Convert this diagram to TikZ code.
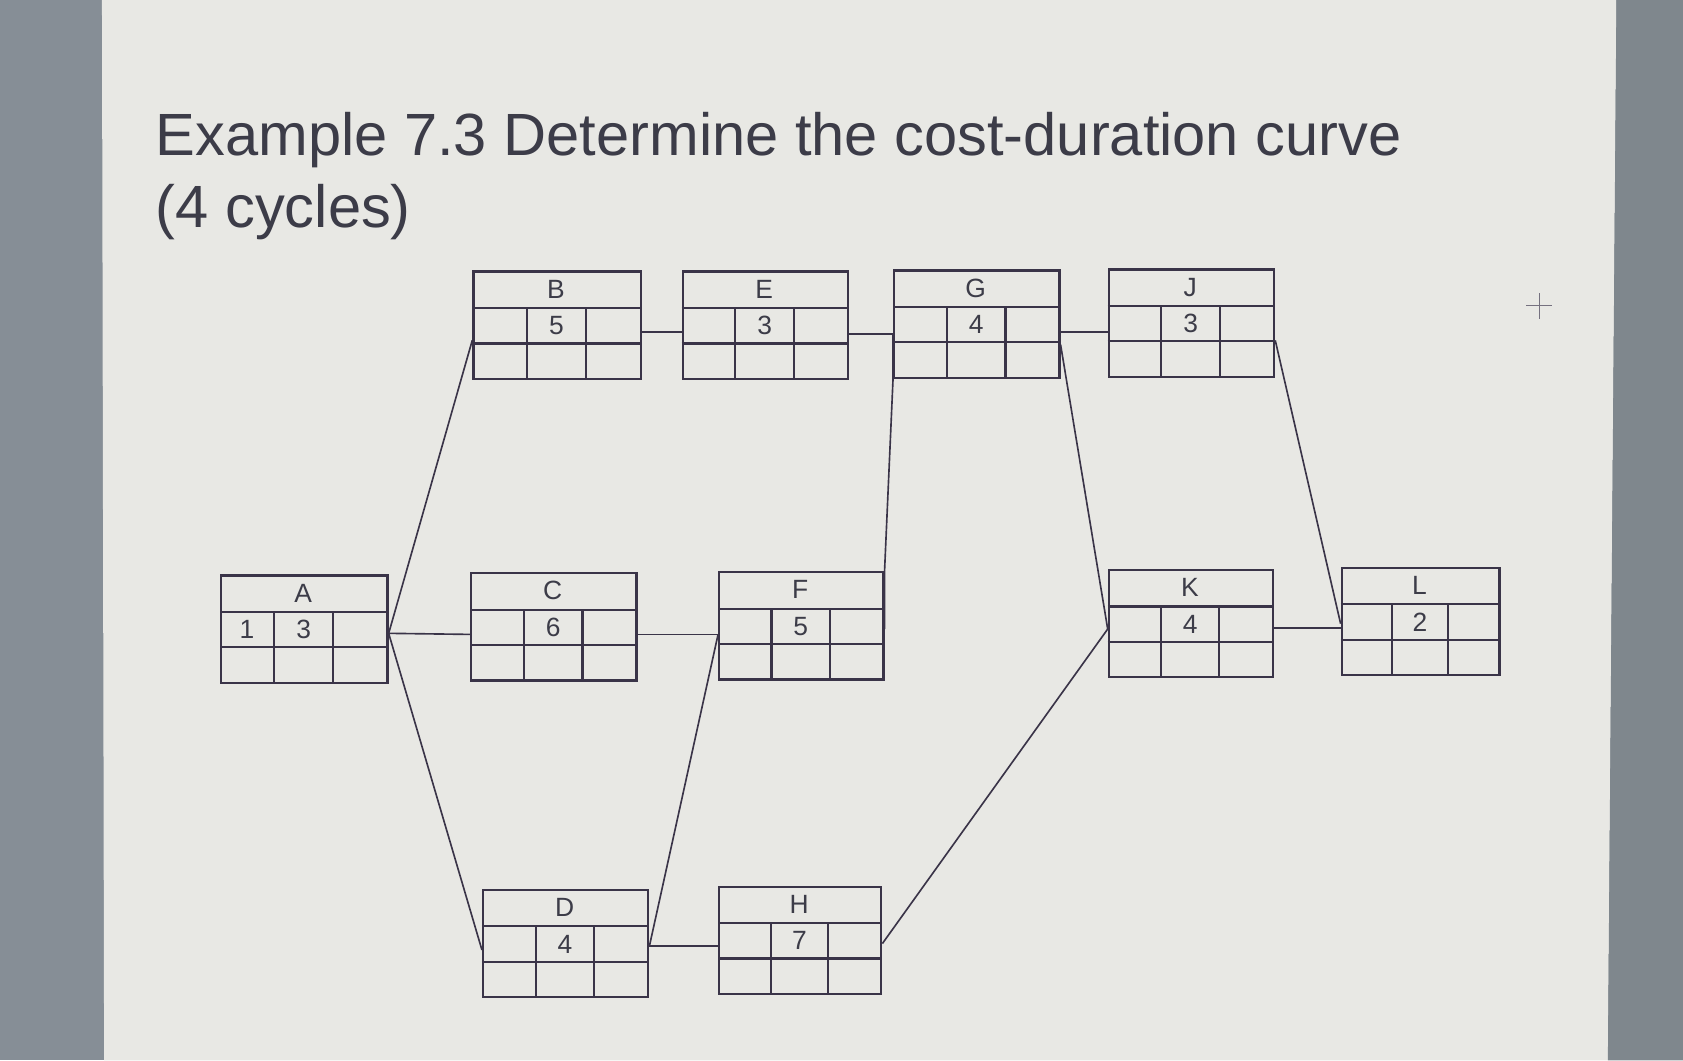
\documentclass[tikz,border=0pt]{standalone}
\usepackage{fontspec}
\setmainfont{Liberation Sans}
\usetikzlibrary{calc}
\definecolor{screen}{RGB}{232,232,228}
\definecolor{bezel}{RGB}{134,142,150}
\definecolor{bezelr}{RGB}{127,135,141}
\definecolor{ink}{RGB}{58,52,72}
\definecolor{txt}{RGB}{60,60,72}
\tikzset{
  actnode/.style={draw=ink, line width=1.8pt, rectangle, inner sep=0pt, minimum height=3cm, anchor=north west},
  grid/.style={draw=ink, line width=1.7pt},
  link/.style={draw=ink, line width=1.3pt, line join=round},
  lbl/.style={font=\fontsize{21}{24}\selectfont, text=txt, inner sep=0pt},
}
% name, x, y, width, label, middle value, left value
\newcommand\actbox[7]{%
  \node[actnode, minimum width=#4*0.03cm] (#1) at (#2,#3) {};
  \draw[grid] ($(#1.north west)+(0,35)$) -- ($(#1.north east)+(0,35)$);
  \draw[grid] ($(#1.north west)+(0,68)$) -- ($(#1.north east)+(0,68)$);
  \draw[grid] ($(#1.north west)+(0.325*#4,35)$) -- ($(#1.south west)+(0.325*#4,0)$);
  \draw[grid] ($(#1.north west)+(0.68*#4,35)$) -- ($(#1.south west)+(0.68*#4,0)$);
  \node[lbl] at ($(#1.north west)+(0.5*#4,17.5)$) {#5};
  \node[lbl] at ($(#1.north west)+(0.5025*#4,51.5)$) {#6};
  \node[lbl] at ($(#1.north west)+(0.1625*#4,51.5)$) {#7};
}
\begin{document}
\begin{tikzpicture}[x=0.03cm, y=-0.03cm]
\useasboundingbox (0,0) rectangle (1568,988);
% background: screen and bezels
\fill[bezel] (0,0) rectangle (1568,988);
\fill[screen] (95,0) -- (1506,0) -- (1498,988) -- (97,988) -- cycle;
\fill[bezelr] (1506,0) -- (1568,0) -- (1568,988) -- (1498,988) -- cycle;
% title
\node[anchor=base west, inner sep=0pt, text=txt, font=\fontsize{47.4}{56}\selectfont] (t1) at (145,145) {Example 7.3 Determine the cost-duration curve};
\node[anchor=base west, inner sep=0pt, text=txt, font=\fontsize{47.4}{56}\selectfont] (t2) at (145,212) {(4 cycles)};
% plus mark
\coordinate (pc) at (1434,285);
\draw[ink!70, line width=0.8pt] ($(pc)+(-12,0)$) -- ($(pc)+(12,0)$);
\draw[ink!70, line width=0.8pt] ($(pc)+(0,-12)$) -- ($(pc)+(0,12)$);
% activity boxes
\actbox{A}{205}{535}{155}{A}{3}{1}
\actbox{B}{440}{252}{156}{B}{5}{}
\actbox{E}{635}{252}{154}{E}{3}{}
\actbox{G}{832}{251}{154}{G}{4}{}
\actbox{J}{1032}{250}{154}{J}{3}{}
\actbox{C}{438}{533}{154}{C}{6}{}
\actbox{F}{669}{532}{153}{F}{5}{}
\actbox{K}{1032}{530}{153}{K}{4}{}
\actbox{L}{1249}{528}{147}{L}{2}{}
\actbox{D}{449}{828}{154}{D}{4}{}
\actbox{H}{669}{825}{151}{H}{7}{}
% connectors
\draw[link] ($(A.east)+(0,4)$) -- ($(B.west)+(0,14)$);
\draw[link] ($(A.east)+(0,4)$) -- ($(C.west)+(0,7)$);
\draw[link] ($(A.east)+(0,4)$) -- ($(D.west)+(0,6)$);
\draw[link] ($(B.east)+(0,6)$) -- ($(E.west)+(0,6)$);
\draw[link] ($(E.east)+(0,8)$) -- ($(G.west)+(0,9)$);
\draw[link] ($(G.east)+(0,7)$) -- ($(J.west)+(0,8)$);
\draw[link] ($(G.east)+(0,19)$) -- ($(K.west)+(0,5)$);
\draw[link] ($(J.east)+(0,16)$) -- ($(L.west)+(0,2)$);
\draw[link] ($(K.east)+(0,4)$) -- ($(L.west)+(0,6)$);
\draw[link] ($(C.east)+(0,7)$) -- ($(F.west)+(0,8)$);
\draw[link] ($(D.east)+(0,2)$) -- ($(F.west)+(0,8)$);
\draw[link] ($(D.east)+(0,2)$) -- ($(H.west)+(0,5)$);
\draw[link] ($(F.east)+(0,3)$) -- (F.north east) -- (G.south west) -- ($(G.west)+(0,9)$);
\draw[link] ($(H.east)+(0,3)$) -- ($(K.west)+(0,5)$);
\end{tikzpicture}
\end{document}
